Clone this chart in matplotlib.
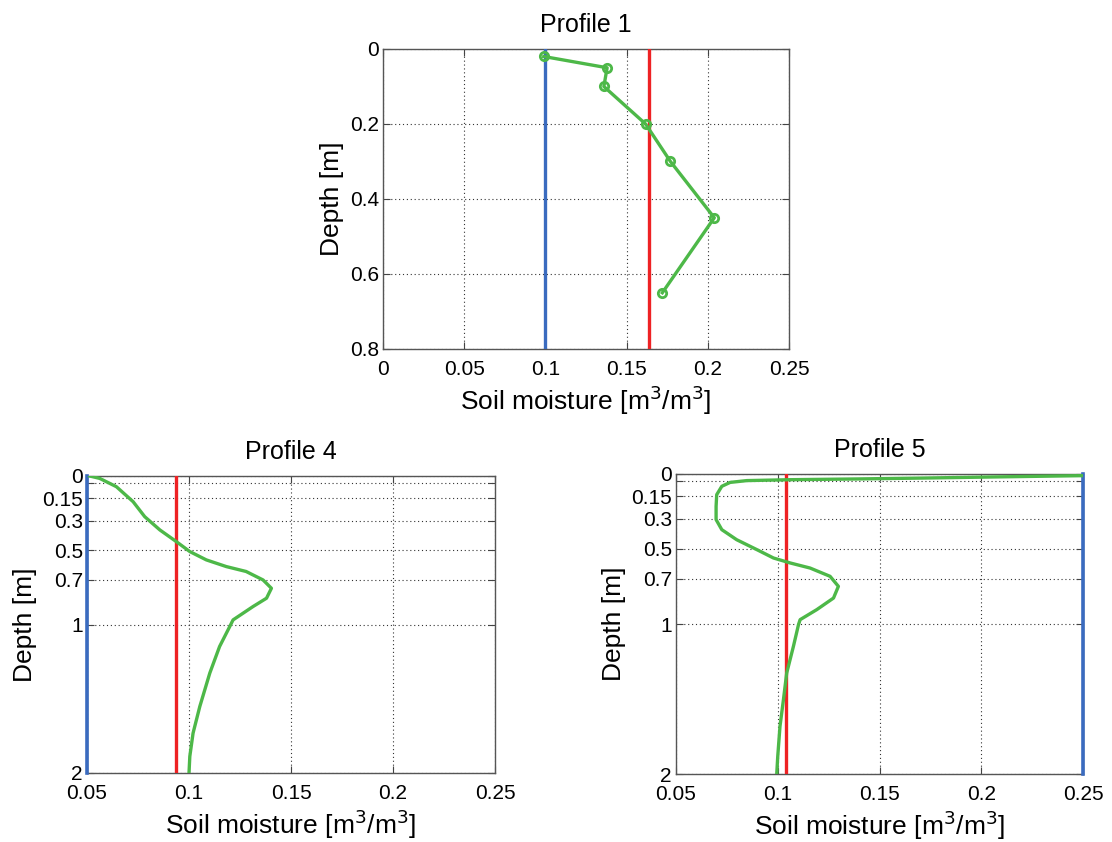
import matplotlib
matplotlib.use("Agg")
import matplotlib.pyplot as plt

plt.rcParams['font.family'] = ['Liberation Sans', 'DejaVu Sans']

# ---------------- data ----------------
# Profile 1 (measured points)
p1_moist = [0.099, 0.138, 0.136, 0.1617, 0.177, 0.204, 0.172]
p1_depth = [0.02, 0.05, 0.10, 0.20, 0.30, 0.45, 0.65]
p1_blue = 0.1
p1_red = 0.164

# Profile 4 (continuous profile)
p4_moist = [0.0513, 0.0562, 0.0644, 0.0726, 0.0783, 0.0857, 0.0938, 0.1004,
            0.1085, 0.1183, 0.128, 0.1363, 0.1404, 0.138, 0.1314, 0.1216,
            0.12, 0.115, 0.1102, 0.1053, 0.102, 0.1004, 0.1]
p4_depth = [0.0, 0.016, 0.072, 0.173, 0.274, 0.363, 0.442, 0.509,
            0.565, 0.61, 0.643, 0.70, 0.756, 0.823, 0.879, 0.969,
            1.013, 1.148, 1.327, 1.552, 1.731, 1.888, 2.0]
p4_blue = 0.05
p4_red = 0.0935

# Profile 5 (continuous profile)
p5_moist = [0.25, 0.2044, 0.1716, 0.1389, 0.1061, 0.0848, 0.0766, 0.0725,
            0.070, 0.0697, 0.0697, 0.0725, 0.0798, 0.0897, 0.0979, 0.1061,
            0.1159, 0.1257, 0.1298, 0.1274, 0.1192, 0.111, 0.1102, 0.1077,
            0.1044, 0.1028, 0.1011, 0.1, 0.0995]
p5_depth = [0.011, 0.02, 0.027, 0.033, 0.038, 0.044, 0.056, 0.082,
            0.138, 0.216, 0.304, 0.371, 0.438, 0.504, 0.56, 0.593,
            0.627, 0.682, 0.749, 0.827, 0.904, 0.971, 1.004, 1.149,
            1.327, 1.504, 1.682, 1.882, 2.0]
p5_blue = 0.25
p5_red = 0.1041

top_xticks = [0, 0.05, 0.1, 0.15, 0.2, 0.25]
top_xticklabels = ['0', '0.05', '0.1', '0.15', '0.2', '0.25']
top_yticks = [0, 0.2, 0.4, 0.6, 0.8]
top_yticklabels = ['0', '0.2', '0.4', '0.6', '0.8']
bot_xticks = [0.05, 0.1, 0.15, 0.2, 0.25]
bot_xticklabels = ['0.05', '0.1', '0.15', '0.2', '0.25']
bot_yticks = [0, 0.05, 0.15, 0.3, 0.5, 0.7, 1, 2]
bot_yticklabels = ['0', '', '0.15', '0.3', '0.5', '0.7', '1', '2']

GREEN = '#4db848'
RED = '#ee2224'
BLUE = '#3a6bbf'

W, H = 1112, 842
fig = plt.figure(figsize=(W / 100, H / 100), dpi=100)


def add_ax(x0, y0, x1, y1):
    return fig.add_axes([x0 / W, 1 - y1 / H, (x1 - x0) / W, (y1 - y0) / H])


def style(ax, title, xticks, xtl, yticks, ytl, xlim, ylim):
    ax.set_xlim(*xlim)
    ax.set_ylim(*ylim)
    ax.set_xticks(xticks)
    ax.set_xticklabels(xtl)
    ax.set_yticks(yticks)
    ax.set_yticklabels(ytl)
    ax.grid(True, linestyle=(0, (1, 2.5)), color='#333333', linewidth=0.8)
    ax.tick_params(direction='in', length=5, width=0.8, top=True, right=True,
                   labelsize=15, colors='#444444', labelcolor='black')
    ax.tick_params(axis='x', pad=8)
    ax.tick_params(axis='y', pad=3)
    for s in ax.spines.values():
        s.set_color('#555555')
        s.set_linewidth(1.0)
    ax.set_title(title, fontsize=18, pad=12)
    ax.set_xlabel('Soil moisture [m$^3$/m$^3$]', fontsize=19, labelpad=3)
    ax.set_ylabel('Depth [m]', fontsize=19, labelpad=4)


# Profile 1
ax1 = add_ax(383, 49, 789, 349)
ax1.plot([p1_blue, p1_blue], [0, 0.8], color=BLUE, lw=2.4, zorder=3)
ax1.plot([p1_red, p1_red], [0, 0.8], color=RED, lw=2.4, zorder=3)
ax1.plot(p1_moist, p1_depth, color=GREEN, lw=2.4, marker='o', ms=6,
         mfc='none', mec=GREEN, mew=2, zorder=4)
style(ax1, 'Profile 1', top_xticks, top_xticklabels, top_yticks,
      top_yticklabels, (0, 0.25), (0.8, 0))

# Profile 4
ax4 = add_ax(87, 476, 495, 773)
ax4.plot([p4_blue, p4_blue], [0, 2], color=BLUE, lw=2.6, zorder=3, clip_on=False)
ax4.plot([p4_red, p4_red], [0, 2], color=RED, lw=2.4, zorder=3)
ax4.plot(p4_moist, p4_depth, color=GREEN, lw=2.4, zorder=4)
style(ax4, 'Profile 4', bot_xticks, bot_xticklabels, bot_yticks,
      bot_yticklabels, (0.05, 0.25), (2, 0))

# Profile 5
ax5 = add_ax(676, 474, 1083, 774)
ax5.plot([p5_blue, p5_blue], [0, 2], color=BLUE, lw=2.6, zorder=3, clip_on=False)
ax5.plot([p5_red, p5_red], [0, 2], color=RED, lw=2.4, zorder=3)
ax5.plot(p5_moist, p5_depth, color=GREEN, lw=2.4, zorder=4)
style(ax5, 'Profile 5', bot_xticks, bot_xticklabels, bot_yticks,
      bot_yticklabels, (0.05, 0.25), (2, 0))

fig.savefig('out.png', dpi=100, facecolor='white')
